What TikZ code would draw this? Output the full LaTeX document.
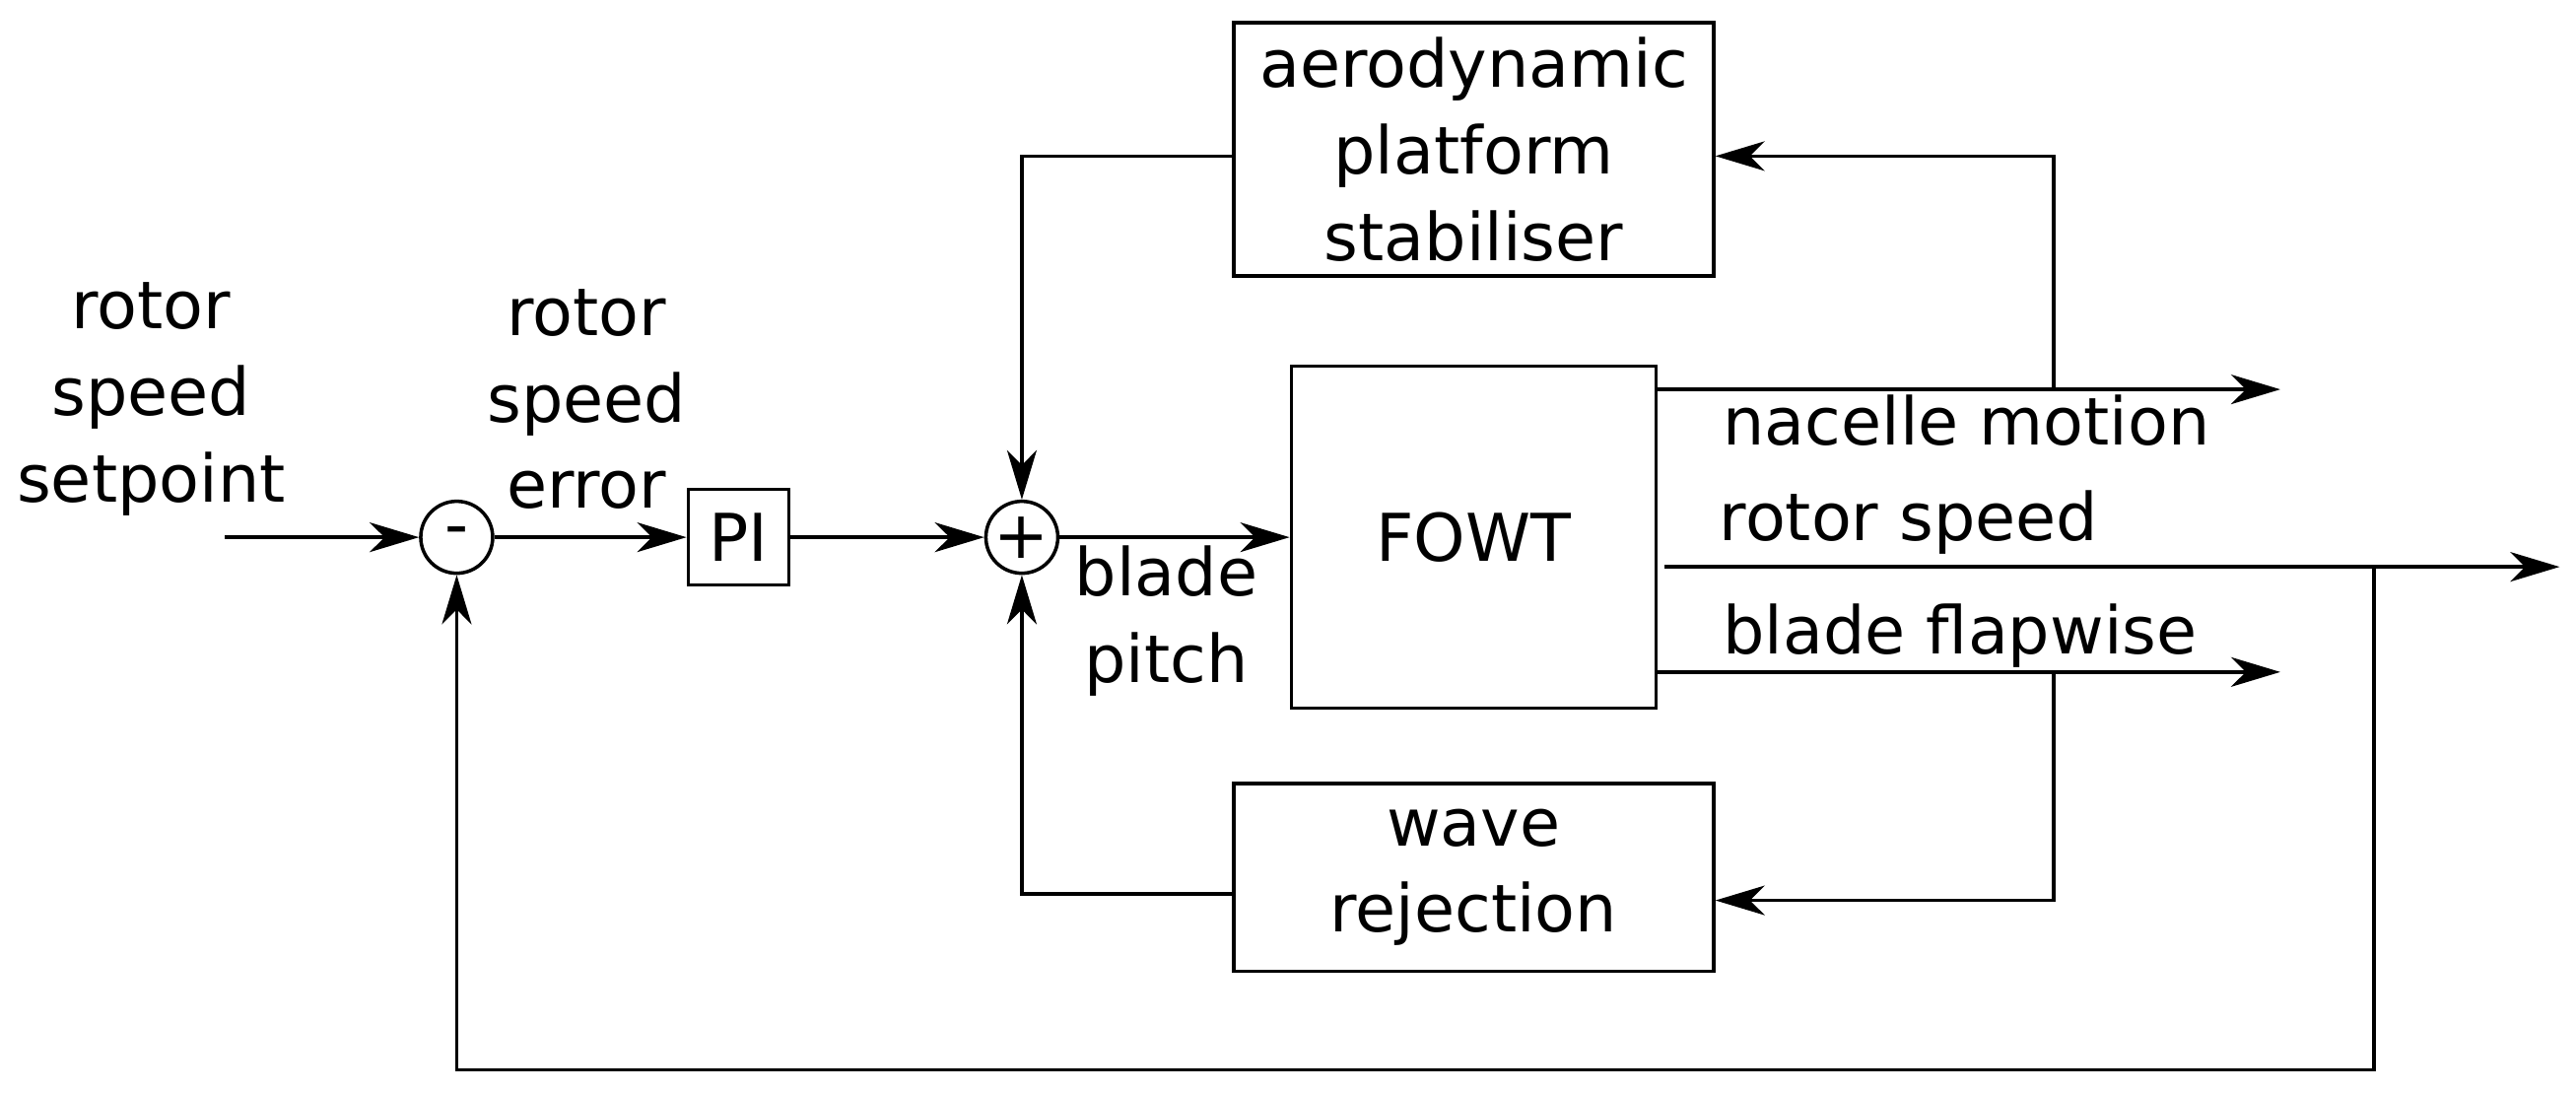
\documentclass[tikz,border=0pt]{standalone}
\usepackage{fontspec}
\setmainfont{DejaVu Sans}
\usetikzlibrary{arrows.meta}
\begin{document}
\begin{tikzpicture}[x=1cm/60, y=-1cm/60, line width=1pt,
    font=\fontsize{19}{25}\selectfont,
    >={Stealth[length=5mm,width=3mm,inset=1.5mm]},
    blk/.style={draw, align=center, inner sep=0pt},
    sum/.style={draw, circle, minimum size=0.73cm, inner sep=0pt},
    lbl/.style={align=center}]
		%%%%% START %%%%%
		\useasboundingbox (0,0) rectangle (1568,665);
		
		\node[sum] (minus) at (278, 327) {-};
		\node[sum] (plus) at (622, 327) {+};
		\node[blk, minimum width=1.02cm, minimum height=0.97cm] (pi) at (449.5, 327) {PI};
		\node[blk, minimum width=3.7cm, minimum height=3.47cm] (fowt) at (897, 327) {FOWT};
		\node[blk, minimum width=4.87cm, minimum height=2.57cm] (aero) at (897, 91) {aerodynamic\\platform\\stabiliser};
		\node[blk, minimum width=4.87cm, minimum height=1.9cm] (wave) at (897, 534) {wave\\rejection};
		
		\coordinate (in) at (137, 327);
		\coordinate (nacout) at (1388, 237);
		\coordinate (rsout) at (1558, 345);
		\coordinate (flapout) at (1388, 409);
		
		\node[lbl] at (92, 243) {rotor\\speed\\setpoint};
		\node[lbl] at (357, 243) {rotor\\speed\\error};
		\node[lbl] at (710, 378) {blade\\pitch};
		\node at (1197, 256) {nacelle motion};
		\node at (1162, 318) {rotor speed};
		\node at (1193, 387) {blade flapwise};
		
		\draw[->] (in) -- (minus);
		\draw[->] (minus) -- (pi);
		\draw[->] (pi) -- (plus);
		\draw[->] (plus) -- (fowt.west |- plus);
		
		\draw[->] (fowt.east |- nacout) -- (nacout);
		\draw[->] (1250, 237) |- (aero.east |- 0, 95);
		\draw[->] (aero.west |- 0, 95) -| (plus.north);
		
		\draw[->] (1013, 345) -- (rsout);
		\draw[->] (1445, 345) |- (278, 651) -- (minus.south);
		
		\draw[->] (fowt.east |- flapout) -- (flapout);
		\draw[->] (1250, 409) |- (wave.east |- 0, 548);
		\draw[->] (wave.west |- 0, 544) -| (plus.south);
		%%%%% END %%%%%
\end{tikzpicture}
\end{document}
